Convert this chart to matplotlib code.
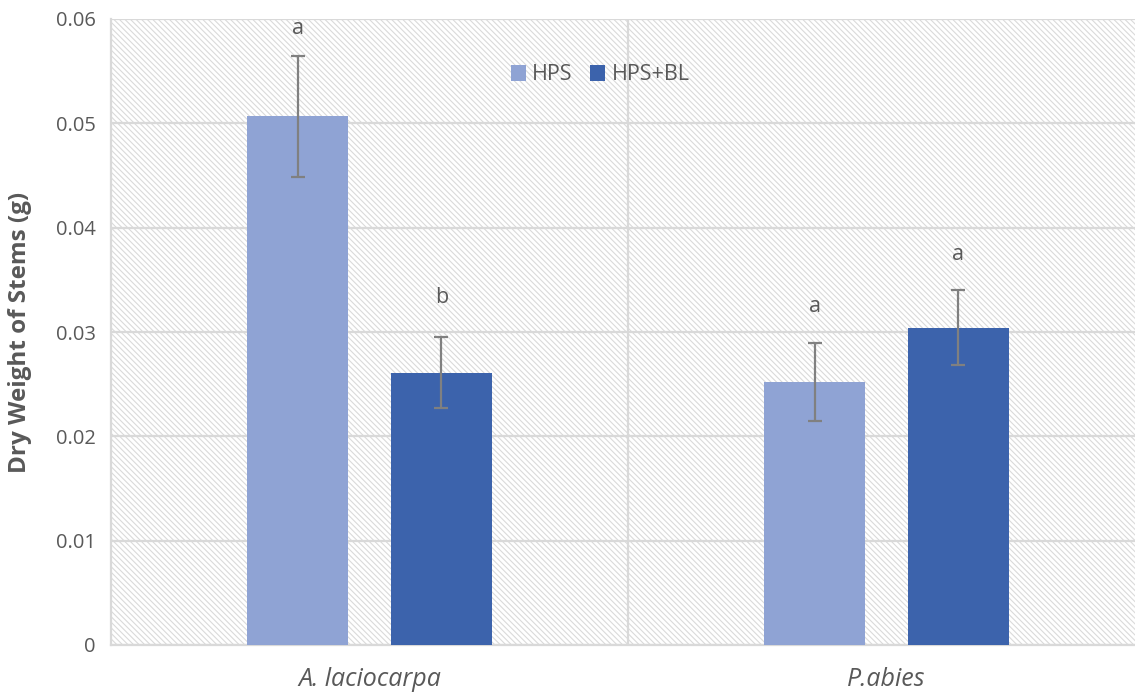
import matplotlib
matplotlib.use('Agg')
import matplotlib.pyplot as plt
from matplotlib.patches import Rectangle
import numpy as np

plt.rcParams['font.family'] = ['Open Sans', 'DejaVu Sans']
plt.rcParams['hatch.linewidth'] = 0.8

species = ['A. laciocarpa', 'P.abies']
treatments = ['HPS', 'HPS+BL']
hps = [0.0507, 0.0252]
hps_err = [0.0058, 0.0037]
hps_bl = [0.0261, 0.0304]
hps_bl_err = [0.0034, 0.0036]
hps_letters = ['a', 'a']
hps_bl_letters = ['b', 'a']
hps_letter_y = [0.0591, 0.0324]
hps_bl_letter_y = [0.0333, 0.0374]

light = '#8fa3d4'
dark = '#3c63ac'
grid = '#d9d9d9'
text = '#595959'

fig = plt.figure(figsize=(11.35, 6.93), dpi=100)
ax = fig.add_axes([111 / 1135, 48 / 693, 1034 / 1135, 626 / 693])

# hatched plot area
ax.add_patch(Rectangle((0, 0), 1, 1, transform=ax.transAxes, facecolor='white',
                       edgecolor='#dadada', hatch='\\' * 6, linewidth=0, zorder=0))

x = np.arange(len(species))
w = 0.195
off = 0.139
ax.bar(x - off, hps, w, color=light, label=treatments[0], zorder=3)
ax.bar(x + off, hps_bl, w, color=dark, label=treatments[1], zorder=3)
ax.errorbar(x - off, hps, yerr=hps_err, fmt='none', ecolor='#808080',
            elinewidth=1.6, capsize=5, capthick=1.6, zorder=4)
ax.errorbar(x + off, hps_bl, yerr=hps_bl_err, fmt='none', ecolor='#808080',
            elinewidth=1.6, capsize=5, capthick=1.6, zorder=4)

for xi, ly, lt in zip(x - off, hps_letter_y, hps_letters):
    ax.text(xi, ly, lt, ha='center', va='center', fontsize=15.5, color=text)
for xi, ly, lt in zip(x + off, hps_bl_letter_y, hps_bl_letters):
    ax.text(xi, ly, lt, ha='center', va='center', fontsize=15.5, color=text)

ax.set_xlim(-0.5, 1.5)
ax.set_ylim(0, 0.06)
ax.set_yticks(np.arange(0, 0.061, 0.01))
ax.set_yticklabels(['0', '0.01', '0.02', '0.03', '0.04', '0.05', '0.06'])
ax.yaxis.grid(True, color=grid, linewidth=1.6, zorder=1)
ax.axvline(0.5, color=grid, linewidth=1.6, zorder=1)
ax.set_axisbelow(True)

ax.set_xticks(x)
ax.set_xticklabels(species, fontstyle='italic', fontsize=18, color=text)
ax.tick_params(axis='y', labelsize=14.5, labelcolor=text, length=0, pad=11)
ax.tick_params(axis='x', length=0, pad=16)
ax.set_ylabel('Dry Weight of Stems (g)', fontsize=17.5, fontweight='bold',
              color=text, labelpad=17)

for s in ['top', 'right']:
    ax.spines[s].set_visible(False)
ax.spines['left'].set_color(grid)
ax.spines['left'].set_linewidth(1.6)
ax.spines['bottom'].set_color(grid)
ax.spines['bottom'].set_linewidth(1.6)

leg = ax.legend(loc='center', bbox_to_anchor=(600 / 1135, 1 - 75 / 693),
                bbox_transform=fig.transFigure, ncol=2, frameon=False,
                fontsize=15.5, handlelength=0.7, handleheight=0.7,
                handletextpad=0.3, columnspacing=0.8)
for t in leg.get_texts():
    t.set_color(text)

fig.savefig('out.png', dpi=100)
